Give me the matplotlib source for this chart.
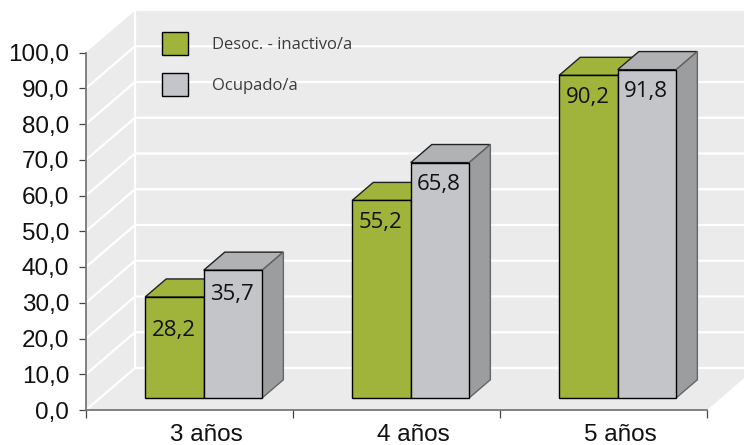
#!/usr/bin/python
import matplotlib
matplotlib.use("Agg")
import matplotlib.pyplot as plt
import numpy as np

categories = ['3 años', '4 años', '5 años']
series_names = ['Desoc. - inactivo/a', 'Ocupado/a']
desoc = [28.2, 55.2, 90.2]
ocupado = [35.7, 65.8, 91.8]
y_ticks = [0, 10, 20, 30, 40, 50, 60, 70, 80, 90, 100]
y_labels = ['0,0', '10,0', '20,0', '30,0', '40,0', '50,0', '60,0', '70,0', '80,0', '90,0', '100,0']
# how far under the bar top each label sits, px
label_drop = [[33, 22, 22], [24, 22, 22]]

GREEN = '#a0b43c'
GREY = '#c4c5c8'
GREY_TOP = '#b1b2b4'
GREY_SIDE = '#9c9d9f'
WALL = '#ebebeb'

W, H = 744, 445
X0, X1, Y0, Y1 = 86, 707, 410, 52.5
# wall depth in data units (49 px across, 42 px up)
DX = 49 / ((X1 - X0) / 3)
DY = 42 / ((Y0 - Y1) / 100)
BAR_W = 0.283
BAR_NEAR = 0.29
BAR_FAR = 0.72

plt.rcParams['font.family'] = ['Liberation Sans', 'DejaVu Sans']
fig = plt.figure(figsize=(W / 100, H / 100), dpi=100)
ax = fig.add_axes([X0 / W, (H - Y0) / H, (X1 - X0) / W, (Y0 - Y1) / H])
ax.patch.set_alpha(0)
ax.set_xlim(0, 3)
ax.set_ylim(0, 100)


def proj(x, v, depth):
    return x + depth * DX, v + depth * DY


def poly(points, **kw):
    xs, ys = zip(*points)
    ax.fill(xs, ys, clip_on=False, **kw)


# walls and floor
poly([proj(0, 0, 0), proj(0, 0, 1), proj(0, 100, 1), proj(0, 100, 0)], color=WALL, lw=0, zorder=0)
poly([proj(0, 0, 1), proj(3, 0, 1), proj(3, 100, 1), proj(0, 100, 1)], color=WALL, lw=0, zorder=0)
poly([proj(0, 0, 0), proj(3, 0, 0), proj(3, 0, 1), proj(0, 0, 1)], color=WALL, lw=0, zorder=0)

for v in y_ticks[:-1]:
    xs, ys = zip(proj(0, v, 0), proj(0, v, 1), proj(3, v, 1))
    ax.plot(xs, ys, color='white', lw=1.6, clip_on=False, zorder=1, solid_capstyle='butt')
xs, ys = zip(proj(0, 0, 1), proj(0, 100, 1))
ax.plot(xs, ys, color='white', lw=1.6, clip_on=False, zorder=1)


def bar_3d(x, value, front, top, side):
    bx, by = proj(x, 0, BAR_NEAR)
    b = ax.bar(bx, value, BAR_W, bottom=by, align='edge', color=front, edgecolor='black',
               linewidth=1, zorder=4, clip_on=False)
    a = [proj(x, value, BAR_NEAR), proj(x + BAR_W, value, BAR_NEAR),
         proj(x + BAR_W, value, BAR_FAR), proj(x, value, BAR_FAR)]
    poly(a, facecolor=top, edgecolor='#222222', lw=1, zorder=3)
    s = [proj(x + BAR_W, 0, BAR_NEAR), proj(x + BAR_W, 0, BAR_FAR),
         proj(x + BAR_W, value, BAR_FAR), proj(x + BAR_W, value, BAR_NEAR)]
    poly(s, facecolor=side, edgecolor='#666666', lw=1, zorder=3)
    return b


handles = []
for k, (vals, front, top, side) in enumerate([(desoc, GREEN, GREEN, GREEN),
                                              (ocupado, GREY, GREY_TOP, GREY_SIDE)]):
    for i, v in enumerate(vals):
        left = i + 0.5 - BAR_W + k * BAR_W
        b = bar_3d(left, v, front, top, side)
        cx, cy = proj(left + BAR_W / 2, v, BAR_NEAR)
        ax.annotate(f'{v:.1f}'.replace('.', ','), (cx, cy), xytext=(-1, -label_drop[k][i]),
                    textcoords='offset pixels', ha='center', va='center', fontsize=16,
                    family=['Open Sans', 'DejaVu Sans'], color='#111111', zorder=6)
    handles.append(b)

ax.legend(handles, series_names, loc='upper left', bbox_to_anchor=(157 / W, 1 - 27 / H),
          bbox_transform=fig.transFigure, frameon=False, borderpad=0.3,
          borderaxespad=0, handlelength=1.56, handleheight=1.746, handletextpad=1.44,
          labelspacing=1.08, labelcolor='#3c3c3c', prop={'family': 'Open Sans', 'size': 12})

# axes
for name in ['top', 'right']:
    ax.spines[name].set_visible(False)
for name in ['left', 'bottom']:
    ax.spines[name].set_color('#777777')
    ax.spines[name].set_linewidth(1.3)
    ax.spines[name].set_zorder(2)
ax.set_yticks(y_ticks)
ax.set_yticklabels(y_labels, fontsize=17.5, color='#111111')
ax.tick_params(axis='y', length=5, width=0.9, color='#444444', pad=7)
ax.set_xticks([0, 1, 2, 3])
ax.set_xticklabels([])
ax.set_xticks(np.arange(3) + 0.58, minor=True)
ax.set_xticklabels(categories, minor=True, fontsize=17.5, color='#111111')
ax.tick_params(axis='x', which='major', length=6, width=0.9, color='#444444')
ax.tick_params(axis='x', which='minor', length=0, pad=10)

fig.savefig('out.png', dpi=100)
